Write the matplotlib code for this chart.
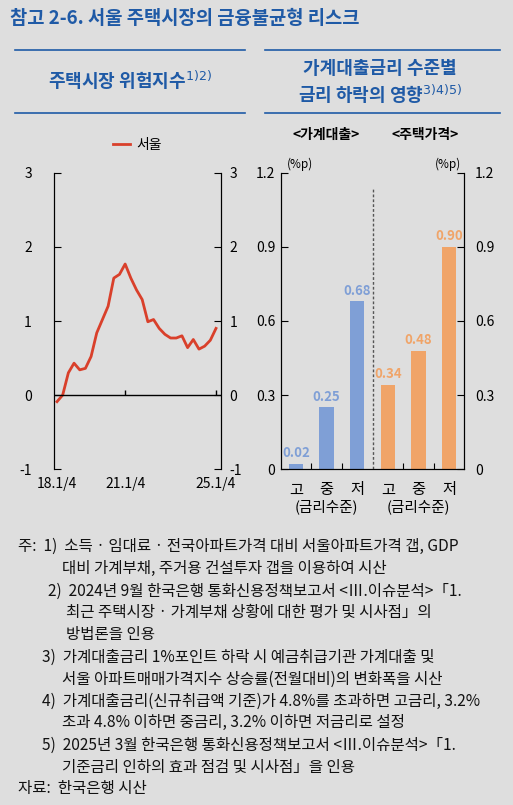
import matplotlib
matplotlib.use("Agg")
import matplotlib.pyplot as plt
from matplotlib.lines import Line2D

plt.rcParams['font.family'] = ['Noto Sans CJK KR', 'DejaVu Sans']

risk_index = [-0.09, 0.0, 0.3, 0.43, 0.34, 0.36, 0.52, 0.84, 1.02, 1.2, 1.58, 1.63, 1.77,
              1.58, 1.42, 1.29, 0.99, 1.02, 0.9, 0.82, 0.77, 0.77, 0.8, 0.64, 0.75, 0.62,
              0.66, 0.74, 0.9]
line_ticks = [0, 12, 28]
line_ticklabels = ['18.1/4', '21.1/4', '25.1/4']
bar_labels = ['고', '중', '저', '고', '중', '저']
loan_vals = [0.02, 0.25, 0.68]
price_vals = [0.34, 0.48, 0.90]

W, H = 513, 805
BG = '#dedede'
BLUE = '#7f9fd6'
ORANGE = '#f0a468'
TITLE = '#1f5aa6'

fig = plt.figure(figsize=(W/100, H/100), dpi=100, facecolor=BG)

def fx(px): return px / W
def fy(py): return 1 - py / H

fig.text(fx(10), fy(18), '참고 2-6. 서울 주택시장의 금융불균형 리스크', color=TITLE,
         fontsize=13.5, fontweight='bold', va='center')
for y in (50, 113):
    fig.add_artist(Line2D([fx(15), fx(245)], [fy(y), fy(y)], color=TITLE, lw=1.2))
    fig.add_artist(Line2D([fx(265), fx(500)], [fy(y), fy(y)], color=TITLE, lw=1.2))
fig.text(fx(130), fy(80), '주택시장 위험지수$^{1)2)}$', color=TITLE, fontsize=13,
         fontweight='bold', ha='center', va='center')
fig.text(fx(380), fy(68), '가계대출금리 수준별', color=TITLE, fontsize=13,
         fontweight='bold', ha='center', va='center')
fig.text(fx(380), fy(94), '금리 하락의 영향$^{3)4)5)}$', color=TITLE, fontsize=13,
         fontweight='bold', ha='center', va='center')

# Left line chart
ax = fig.add_axes([fx(54), fy(469), fx(221-54), (469-173)/H])
ax.set_facecolor(BG)
x = list(range(len(risk_index)))
ax.plot(x, risk_index, color='#d9402b', lw=2, label='서울')
ax.set_xlim(-0.53, 28.88)
ax.set_ylim(-1, 3)
ax.set_yticks([-1, 0, 1, 2, 3])
ax.set_yticklabels(['-1', '0', '1', '2', '3'], fontsize=10)
ax.axhline(0, color='black', lw=1)
ax.vlines([12, 28], 0, 0.07, color='black', lw=1)
ax.set_xticks(line_ticks)
ax.set_xticklabels(line_ticklabels, fontsize=10)
ax.tick_params(axis='x', length=0, pad=6)
ax.tick_params(axis='y', direction='in', length=5, pad=16)
for s in ('top', 'bottom'):
    ax.spines[s].set_visible(False)
ax2 = ax.twinx()
ax2.set_ylim(-1, 3)
ax2.set_yticks([-1, 0, 1, 2, 3])
ax2.set_yticklabels(['-1', '0', '1', '2', '3'], fontsize=10)
ax2.tick_params(axis='y', direction='in', length=5, pad=6)
for s in ('top', 'bottom'):
    ax2.spines[s].set_visible(False)
ax.legend(loc='lower center', bbox_to_anchor=(0.5, 1.03), frameon=False, fontsize=10,
          handlelength=1.2, handletextpad=0.5)

# Right bar chart
bx = fig.add_axes([fx(281), fy(469), fx(464-281), (469-173)/H])
bx.set_facecolor('none')
bx.bar([0, 1, 2], loan_vals, width=0.47, color=BLUE)
bx.bar([3, 4, 5], price_vals, width=0.47, color=ORANGE)
for i, v in enumerate(loan_vals):
    bx.text(i, v + 0.015, f'{v:.2f}', color=BLUE, fontsize=9.5, fontweight='bold',
            ha='center', va='bottom')
for i, v in enumerate(price_vals):
    bx.text(i + 3, v + 0.015, f'{v:.2f}', color=ORANGE, fontsize=9.5, fontweight='bold',
            ha='center', va='bottom')
bx.set_xlim(-0.49, 5.49)
bx.set_ylim(0, 1.2)
bx.axvline(2.5, ymax=0.95, color='#555555', lw=1, ls=(0, (2, 1.5)))
bx.set_yticks([0, 0.3, 0.6, 0.9, 1.2])
bx.set_yticklabels(['0', '0.3', '0.6', '0.9', '1.2'], fontsize=10)
bx.tick_params(axis='y', direction='in', length=5, pad=4)
bx.set_xticks([0.5, 1.5, 3.5, 4.5])
bx.set_xticklabels([])
bx.tick_params(axis='x', direction='in', length=4)
bx.spines['top'].set_visible(False)
bx2 = bx.twinx()
bx2.set_ylim(0, 1.2)
bx2.set_yticks([0, 0.3, 0.6, 0.9, 1.2])
bx2.set_yticklabels(['0', '0.3', '0.6', '0.9', '1.2'], fontsize=10)
bx2.tick_params(axis='y', direction='in', length=5, pad=8)
bx2.spines['top'].set_visible(False)
for i, lab in enumerate(bar_labels):
    bx.text(i, -0.085, lab, fontsize=11, ha='center', va='center')
bx.text(1, -0.155, '(금리수준)', fontsize=10.5, ha='center', va='center')
bx.text(4, -0.155, '(금리수준)', fontsize=10.5, ha='center', va='center')
fig.text(fx(300), fy(164), '(%p)', fontsize=8.5, ha='center', va='center')
fig.text(fx(448), fy(164), '(%p)', fontsize=8.5, ha='center', va='center')
fig.text(fx(326), fy(135), '<가계대출>', fontsize=10, fontweight='bold', ha='center', va='center')
fig.text(fx(425), fy(135), '<주택가격>', fontsize=10, fontweight='bold', ha='center', va='center')

# Footnotes
notes = [
    (18, 546, '주:  1)  소득 · 임대료 · 전국아파트가격 대비 서울아파트가격 갭, GDP'),
    (62, 568, '대비 가계부채, 주거용 건설투자 갭을 이용하여 시산'),
    (48, 591, '2)  2024년 9월 한국은행 통화신용정책보고서 <Ⅲ.이슈분석>「1.'),
    (66, 612, '최근 주택시장 · 가계부채 상황에 대한 평가 및 시사점」의'),
    (66, 634, '방법론을 인용'),
    (42, 657, '3)  가계대출금리 1%포인트 하락 시 예금취급기관 가계대출 및'),
    (62, 679, '서울 아파트매매가격지수 상승률(전월대비)의 변화폭을 시산'),
    (42, 701, '4)  가계대출금리(신규취급액 기준)가 4.8%를 초과하면 고금리, 3.2%'),
    (62, 722, '초과 4.8% 이하면 중금리, 3.2% 이하면 저금리로 설정'),
    (42, 745, '5)  2025년 3월 한국은행 통화신용정책보고서 <Ⅲ.이슈분석>「1.'),
    (62, 767, '기준금리 인하의 효과 점검 및 시사점」을 인용'),
    (18, 788, '자료:  한국은행 시산'),
]
for px, py, t in notes:
    fig.text(fx(px), fy(py), t, fontsize=11.2, va='center', color='#111111')

fig.savefig('out.png', dpi=100, facecolor=BG)
